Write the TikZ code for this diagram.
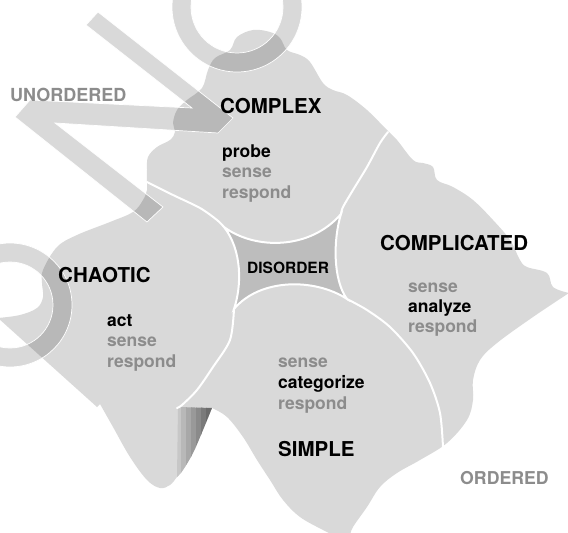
\documentclass[tikz,border=0pt]{standalone}
\usepackage{fontspec}
\setmainfont{TeX Gyre Heros}
\usetikzlibrary{positioning}
\definecolor{blobgray}{HTML}{D9D9D9}
\definecolor{hubgray}{HTML}{BDBDBD}
\definecolor{softgray}{HTML}{8C8C8C}

\begin{document}
\begin{tikzpicture}[x=1pt,y=-1pt,
		region/.style={fill=blobgray},
		border/.style={draw=white,line width=2pt,line cap=round},
		letterband/.style={fill=black,fill opacity=0.15,draw=white,line width=0.7pt},
		head/.style={anchor=base west,inner sep=0pt,font=\fontsize{20.5}{24}\selectfont\bfseries},
		keyword/.style={anchor=base west,inner sep=0pt,font=\fontsize{17.5}{20}\selectfont\bfseries},
		faintword/.style={keyword,text=softgray},
		sideword/.style={anchor=base west,inner sep=0pt,text=softgray,font=\fontsize{18}{21}\selectfont\bfseries}]
		\useasboundingbox (0,0) rectangle (568,533);
		\clip (0,0) rectangle (568,533);
		\fill[region] plot[smooth,tension=0.6] coordinates {(-2,318) (20,315) (37,308) (43,297) (42,283) (43,270) (57,247) (77,235) (110,222) (133,212) (143,200) (147,190) (147,182) (147,170) (148,157) (157,147) (170,140) (175,132) (173,123) (177,110) (187,100) (202,88) (208,70) (215,58) (230,50) (237,37) (253,30) (270,32) (280,38) (287,50) (300,55) (310,62) (323,83) (333,90) (347,95) (367,110) (387,130) (397,140) (413,160) (423,163) (433,167) (437,180) (453,187) (473,200) (493,220) (510,240) (520,260) (527,267) (547,273) (553,287) (569,293)}
			-- plot[smooth,tension=0.6] coordinates {(569,293) (533,317) (497,343) (480,360) (473,380) (473,400) (467,420) (447,443) (420,460) (397,473) (380,487) (367,507) (353,527) (350,536)}
			-- (335,536)
			-- plot[smooth,tension=0.6] coordinates {(335,536) (323,530) (300,517) (283,500) (270,480) (257,460) (243,437) (227,417) (212,408)}
			-- plot[smooth,tension=0.6] coordinates {(212,408) (203,430) (193,453) (183,470) (177,477) (170,485) (160,488) (147,480) (130,457) (113,427) (100,404)}
			-- (97,407) -- cycle;
		\begin{scope}
			\clip (178,407) -- plot[smooth,tension=0.6] coordinates {(212,408) (203,430) (193,453) (183,470) (177,477)} -- cycle;
			\foreach \i [evaluate=\i as \shadepct using int(22+6*\i)] in {0,...,6}
				\fill[black!\shadepct] ({176+5*\i},400) rectangle ({181.5+5*\i},480);
		\end{scope}
		\draw[border] plot[smooth] coordinates {(147,182) (173,195) (200,208) (217,220) (224,227)};
		\draw[border] plot[smooth] coordinates {(388,132) (380,143) (367,167) (353,190) (343,207) (341,214)};
		\draw[border] plot[smooth] coordinates {(347,299) (367,310) (390,327) (413,353) (430,383) (440,413) (443,447)};
		\draw[border] plot[smooth] coordinates {(234,309) (230,340) (213,367) (197,390) (182,405) (177,408)};
		\filldraw[fill=hubgray,border] (224,227) .. controls (255,250) and (310,250) .. (341,214)
			.. controls (333,240) and (333,280) .. (347,299)
			.. controls (315,278) and (260,278) .. (234,309)
			.. controls (242,285) and (242,250) .. cycle;
		\filldraw[letterband] (98,12) -- (233,118) -- (218,133) -- (55,123) -- (163,207) -- (147,222) -- (15,117) -- (30,100) -- (192,108) -- (86,25) -- cycle;
		\filldraw[letterband,even odd rule] (237,7) circle[radius=65pt] (237,7) circle[radius=46pt];
		\filldraw[letterband,even odd rule] (10,305) circle[radius=62pt] (10,305) circle[radius=43pt];
		\node[sideword] (unordered) at (10,101) {UNORDERED};
		\node[sideword,font=\fontsize{17.7}{21}\selectfont\bfseries] (ordered) at (460,484) {ORDERED};
		\node[head] (complex) at (220,113) {COMPLEX};
		\node[keyword] (complexprobe) at (222,157) {probe};
		\node[faintword] (complexsense) at ([yshift=-20.5pt]complexprobe.base west) {sense};
		\node[faintword] (complexrespond) at ([yshift=-20.5pt]complexsense.base west) {respond};
		\node[head] (complicated) at (380,250.5) {COMPLICATED};
		\node[faintword] (complicatedsense) at (408,292) {sense};
		\node[keyword] (complicatedanalyze) at ([yshift=-20.3pt]complicatedsense.base west) {analyze};
		\node[faintword] (complicatedrespond) at ([yshift=-20.3pt]complicatedanalyze.base west) {respond};
		\node[head] (chaotic) at (58,282) {CHAOTIC};
		\node[keyword] (chaoticact) at (107,326) {act};
		\node[faintword] (chaoticsense) at ([yshift=-20.5pt]chaoticact.base west) {sense};
		\node[faintword] (chaoticrespond) at ([yshift=-20.5pt]chaoticsense.base west) {respond};
		\node[head] (simple) at (278,456.7) {SIMPLE};
		\node[faintword] (simplesense) at (278,367.3) {sense};
		\node[keyword] (simplecategorize) at ([yshift=-21pt]simplesense.base west) {categorize};
		\node[faintword] (simplerespond) at ([yshift=-21pt]simplecategorize.base west) {respond};
		\node[head,font=\fontsize{15.5}{18}\selectfont\bfseries] (disorder) at (247,273.3) {DISORDER};
\end{tikzpicture}
\end{document}
